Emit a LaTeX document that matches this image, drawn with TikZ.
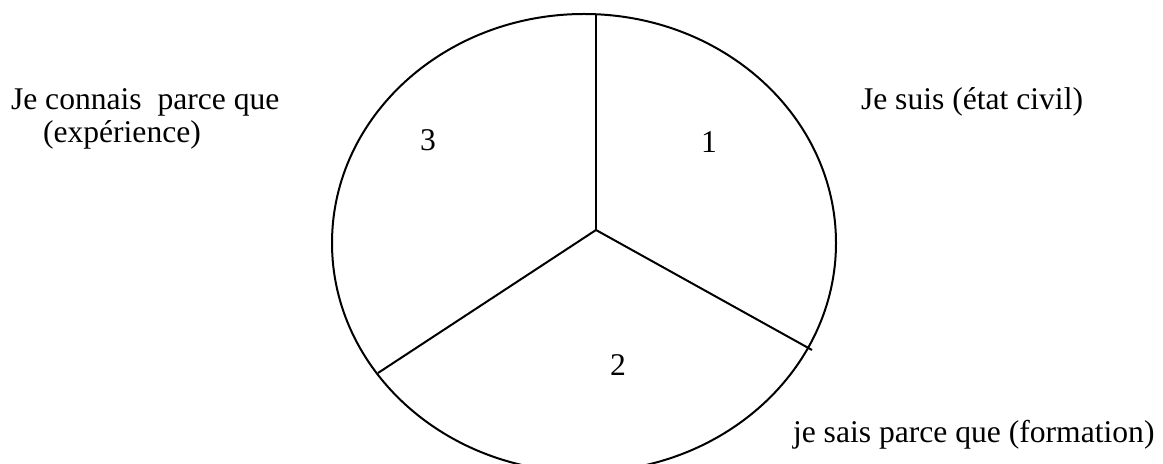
\documentclass[tikz,border=0pt]{standalone}
\usepackage{fontspec}
\setmainfont{Liberation Serif}

\begin{document}
\begin{tikzpicture}[x=0.5pt, y=-0.5pt, line width=1pt,
  lbl/.style={anchor=base west, inner sep=0pt, font=\fontsize{15.8}{19}\selectfont}]
  \useasboundingbox (0,0) rectangle (1163,464);
  \draw (584,243) ellipse [x radius=252, y radius=229];
  \coordinate (ctr) at (596,230);
  \coordinate (top) at (596,14);
  \coordinate (rgt) at (812,350);
  \coordinate (lft) at (378,373);
  \foreach \e in {top, rgt, lft} { \draw (ctr) -- (\e); }
  \node[lbl] (sec1) at (700,153) {1};
  \node[lbl] (sec2) at (609,376) {2};
  \node[lbl] (sec3) at (419,151) {3};
  \node[lbl] (civil) at (860,110) {Je suis (état civil)};
  \node[lbl] (exp1) at (10,110) {Je connais\ \ parce que};
  \node[lbl] (exp2) at (42,143) {(expérience)};
  \node[lbl] (form) at (792,443) {je sais parce que (formation)};
\end{tikzpicture}
\end{document}
